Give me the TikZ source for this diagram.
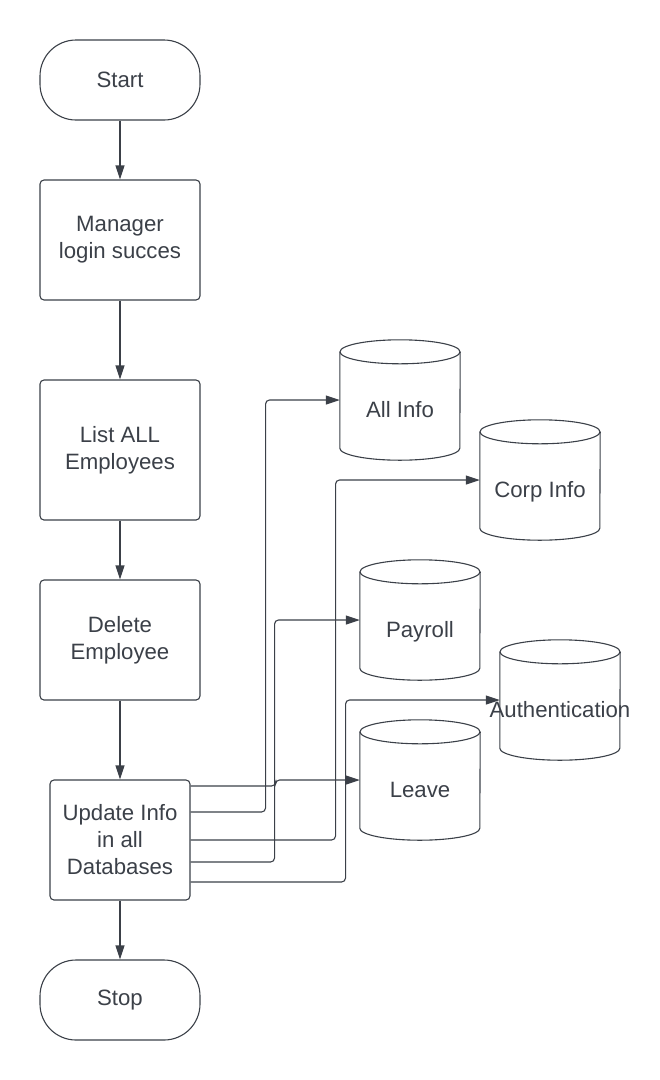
\documentclass[tikz,border=0pt]{standalone}
\usepackage{fontspec}
\setmainfont{Liberation Sans}
\usetikzlibrary{arrows.meta}
\definecolor{ink}{HTML}{3B4048}
\tikzset{
	conn/.style={draw=ink, line width=1.1pt, rounded corners=4pt, -{Triangle[length=14pt, width=9pt]}},
	box/.style={draw=ink, line width=1.1pt, rounded corners=4pt, minimum width=160pt, minimum height=120pt, align=center, text=ink, font=\fontsize{22.2}{27}\selectfont},
	term/.style={box, rounded corners=36pt, minimum height=80pt},
	db/.style={minimum width=120pt, minimum height=120pt, inner sep=0pt, text=ink, font=\fontsize{22.2}{27}\selectfont, text height=38pt, text depth=2.6pt}
}
\def\dbdraw(#1){%
	\draw[ink, line width=1.1pt] ([yshift=-12pt]#1.north) ellipse (60pt and 12pt);
	\draw[ink, line width=1.1pt] ([yshift=-12pt]#1.north west) -- ([yshift=12pt]#1.south west) arc (180:360:60pt and 12pt) -- ([yshift=-12pt]#1.north east);}

\begin{document}
\begin{tikzpicture}[x=1pt, y=-1pt]
		%%%%% START %%%%%
		\useasboundingbox (0, 0) rectangle (660, 1080);
		
		\node[term] (start) at (120, 80) {Start};
		\node[box] (manager) at (120, 240) {Manager\\login succes};
		\node[box, minimum height=140pt] (list) at (120, 450) {List ALL\\Employees};
		\node[box] (delete) at (120, 640) {Delete\\Employee};
		\node[box, minimum width=140pt] (update) at (120, 840) {Update Info\\in all\\Databases};
		\node[term] (stop) at (120, 1000) {Stop};
		
		\draw[conn] (start.south) -- (manager.north);
		\draw[conn] (manager.south) -- (list.north);
		\draw[conn] (list.south) -- (delete.north);
		\draw[conn] (delete.south) -- (update.north);
		\draw[conn] (update.south) -- (stop.north);
		
		\node[db] (allinfo) at (400, 400) {All Info};
		\node[db] (corpinfo) at (540, 480) {Corp Info};
		\node[db] (payroll) at (420, 620) {Payroll};
		\node[db] (auth) at (560, 700) {\makebox[0pt]{Authentication}};
		\node[db] (leave) at (420, 780) {Leave};
		\dbdraw(allinfo)
		\dbdraw(corpinfo)
		\dbdraw(payroll)
		\dbdraw(auth)
		\dbdraw(leave)
		
		\draw[conn] ([yshift=54pt]update.east) -- ++(85, 0) |- (leave.west);
		\draw[conn] ([yshift=28pt]update.east) -- ++(75, 0) |- (allinfo.west);
		\draw[conn] (update.east) -- ++(145, 0) |- (corpinfo.west);
		\draw[conn] ([yshift=-22pt]update.east) -- ++(84, 0) |- (payroll.west);
		\draw[conn] ([yshift=-42pt]update.east) -- ++(155, 0) |- (auth.west);
		
		%%%%% END %%%%%
\end{tikzpicture}
\end{document}
